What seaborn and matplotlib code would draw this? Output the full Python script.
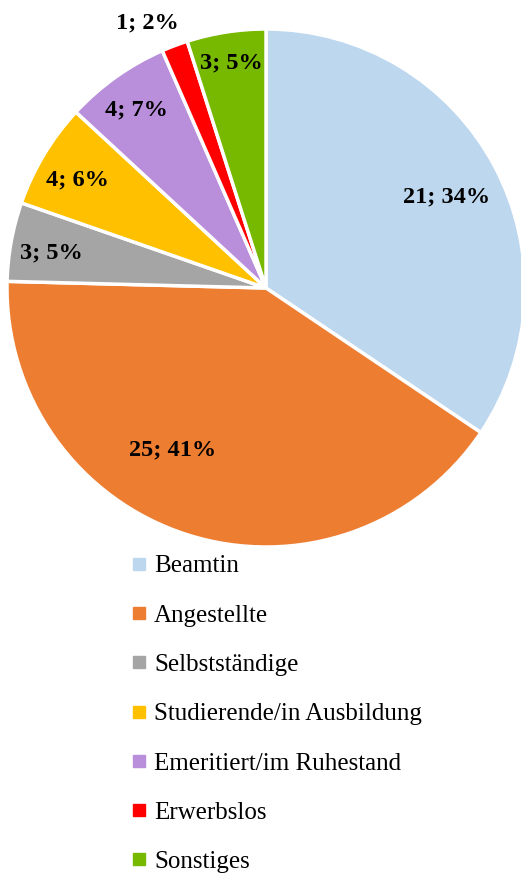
import numpy as np
import matplotlib
matplotlib.use("Agg")
import matplotlib.pyplot as plt
from matplotlib.lines import Line2D
import seaborn as sns

categories = ["Beamtin", "Angestellte", "Selbstständige", "Studierende/in Ausbildung",
              "Emeritiert/im Ruhestand", "Erwerbslos", "Sonstiges"]
counts = [21, 25, 3, 4, 4, 1, 3]
percent_labels = ["34%", "41%", "5%", "6%", "7%", "2%", "5%"]
colors = ["#BDD7EE", "#ED7D31", "#A5A5A5", "#FFC000", "#B98EDB", "#FF0000", "#77B800"]

# where each data label sits: fraction of radius, and angle shift from wedge middle
label_radius = [0.78, 0.72, 0.84, 0.84, 0.85, 1.12, 0.88]
label_shift = [-1.4, -12.2, 1.0, 1.3, 0.5, 3.4, 0.0]

sns.set_theme(style="white")
plt.rcParams["font.family"] = ["Liberation Serif", "DejaVu Serif"]
plt.rcParams["text.color"] = "black"

fig = plt.figure(figsize=(5.21, 8.77), dpi=100)
ax = fig.add_axes([7 / 521, 1 - 547 / 877, 518 / 521, 518 / 877])

wedges, _ = ax.pie(counts, colors=sns.color_palette(colors), startangle=90, counterclock=False,
                   radius=1, wedgeprops=dict(edgecolor="white", linewidth=2.5))
ax.set_xlim(-1, 1)
ax.set_ylim(-1, 1)
ax.set_aspect("equal")
ax.axis("off")

for w, n, p, r, s in zip(wedges, counts, percent_labels, label_radius, label_shift):
    mid = np.deg2rad((w.theta1 + w.theta2) / 2 + s)
    ax.text(r * np.cos(mid), r * np.sin(mid), f"{n}; {p}", ha="center", va="center",
            fontsize=17.5, fontweight="bold", color="black")

handles = [Line2D([], [], marker="s", linestyle="", markersize=8.5, color=c) for c in colors]
leg = fig.legend(handles, categories, loc="upper left", bbox_to_anchor=(131.5 / 521, 1 - 555 / 877),
                 frameon=False, fontsize=18, handlelength=0.6, handletextpad=0.3,
                 labelspacing=1.07, borderpad=0, borderaxespad=0)
for t in leg.get_texts():
    t.set_color("black")

fig.savefig("out.png", dpi=100)
